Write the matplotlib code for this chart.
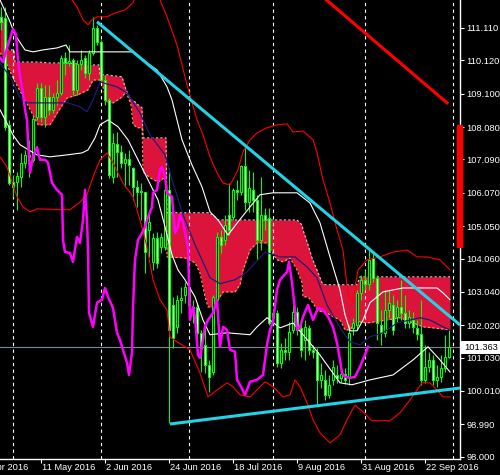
import numpy as np
import pandas as pd
import matplotlib
matplotlib.use('Agg')
import matplotlib.pyplot as plt
import matplotlib.transforms as mtransforms
from matplotlib.patches import Rectangle

plt.rcParams['font.family'] = ['Liberation Sans', 'DejaVu Sans']

# trading days; Apr 19 is only used for the first (cut off) date label
days = pd.bdate_range('2016-04-19', '2016-10-03')
first = 6  # Apr 27 = bar 0

# daily USDJPY candles, Apr 27 .. Sep 30 2016
opens = [111.45, 111.42, 108.15, 106.40, 106.40, 106.56, 106.99, 107.17, 107.08, 108.39,
         109.28, 108.39, 109.00, 108.61, 109.00, 109.13, 110.20, 110.04, 110.13, 109.22,
         110.01, 110.20, 109.74, 110.35, 111.11, 110.69, 109.52, 108.91, 106.56, 107.57,
         107.32, 106.99, 107.11, 106.83, 106.25, 106.10, 106.10, 104.94, 103.96, 104.69,
         104.42, 104.42, 106.16, 102.64, 101.97, 102.80, 102.95, 103.19, 102.58, 102.58,
         101.79, 101.42, 100.81, 100.59, 102.80, 104.72, 104.63, 105.40, 105.33, 106.16,
         106.10, 106.89, 105.79, 106.16, 105.85, 104.63, 105.40, 105.30, 102.28, 102.40,
         100.87, 101.27, 101.21, 101.88, 102.43, 101.94, 101.57, 101.94, 101.27, 101.21,
         100.35, 100.35, 99.89, 100.35, 100.50, 100.41, 100.53, 100.44, 101.94, 102.03,
         103.01, 103.41, 103.29, 104.08, 103.47, 102.03, 101.79, 102.49, 102.64, 102.28,
         102.58, 102.40, 102.09, 102.18, 101.94, 101.76, 100.35, 100.75, 100.96, 100.35,
         100.44, 100.72, 101.05]
highs = [111.76, 111.76, 108.30, 106.62, 106.71, 107.29, 107.38, 107.69, 108.42, 109.43,
         109.43, 109.37, 109.37, 109.13, 109.52, 110.29, 110.38, 110.59, 110.20, 110.13,
         110.44, 110.29, 110.44, 111.45, 111.21, 110.75, 109.68, 108.97, 107.90, 107.93,
         107.54, 107.29, 107.38, 106.86, 106.47, 106.37, 106.10, 105.40, 104.84, 104.88,
         104.84, 106.37, 106.83, 102.89, 102.95, 103.19, 103.35, 103.32, 102.80, 102.71,
         101.88, 101.97, 100.96, 102.95, 104.88, 104.94, 105.40, 106.37, 106.22, 106.47,
         106.92, 107.54, 106.77, 106.71, 106.01, 106.56, 105.61, 105.61, 102.49, 102.49,
         101.48, 101.63, 102.12, 102.64, 102.58, 102.12, 102.18, 102.03, 101.42, 101.33,
         100.87, 100.66, 100.50, 100.96, 100.81, 100.72, 100.72, 102.03, 102.25, 103.10,
         103.56, 103.71, 104.32, 104.26, 103.56, 102.49, 103.10, 103.10, 102.95, 102.80,
         103.41, 102.95, 102.49, 102.43, 102.18, 102.80, 101.42, 101.21, 101.12, 100.81,
         101.12, 101.73, 101.88]
lows = [111.05, 108.00, 106.31, 105.95, 105.55, 106.25, 106.83, 106.56, 107.02, 108.30,
        108.24, 108.09, 108.45, 108.51, 108.76, 109.07, 109.68, 109.95, 109.07, 109.07,
        109.83, 109.58, 109.52, 110.29, 110.59, 109.46, 108.76, 106.53, 106.37, 106.56,
        106.83, 106.25, 106.31, 105.85, 105.64, 105.24, 103.62, 104.11, 103.71, 103.77,
        104.23, 104.32, 99.03, 101.33, 101.79, 102.40, 102.71, 102.55, 102.09, 101.33,
        100.59, 100.56, 99.98, 100.50, 102.71, 104.23, 104.48, 104.78, 105.24, 105.85,
        106.01, 105.55, 105.49, 105.49, 104.02, 104.32, 104.94, 102.03, 102.12, 100.75,
        100.72, 100.96, 100.96, 101.79, 101.73, 101.05, 100.96, 101.12, 101.02, 99.55,
        100.11, 99.74, 99.80, 100.20, 100.26, 100.29, 100.23, 100.20, 101.73, 101.88,
        102.80, 103.10, 103.10, 103.35, 101.57, 101.42, 101.67, 102.25, 101.73, 102.12,
        102.18, 101.94, 101.94, 101.79, 101.57, 100.20, 100.26, 100.59, 100.20, 100.14,
        100.29, 100.59, 101.02]
closes = [111.30, 108.09, 106.37, 106.25, 106.59, 106.99, 107.23, 107.23, 108.33, 109.28,
          108.39, 109.00, 108.61, 109.00, 109.13, 110.20, 110.04, 110.10, 109.22, 110.01,
          110.13, 109.74, 110.35, 111.11, 110.69, 109.52, 108.91, 106.62, 107.60, 107.32,
          106.99, 107.11, 106.92, 106.25, 106.10, 106.13, 104.26, 105.18, 104.69, 103.93,
          104.72, 106.16, 101.88, 101.63, 102.80, 102.86, 103.19, 102.64, 102.55, 101.79,
          101.33, 100.81, 100.44, 102.89, 104.72, 104.48, 105.09, 104.94, 106.16, 106.10,
          106.89, 105.79, 106.22, 105.85, 104.63, 105.40, 105.24, 102.09, 102.40, 100.87,
          101.27, 101.21, 101.82, 102.43, 101.88, 101.27, 101.97, 101.27, 101.21, 100.35,
          100.50, 99.89, 100.20, 100.75, 100.41, 100.53, 100.35, 101.79, 102.09, 103.01,
          103.41, 103.29, 104.02, 103.47, 102.09, 101.79, 102.49, 102.71, 101.88, 102.58,
          102.40, 102.09, 102.28, 101.97, 101.76, 100.35, 100.75, 100.96, 100.35, 100.44,
          100.72, 101.05, 101.363]

# ichimoku cloud: span B (top) and span A (bottom), x in bars
cloud_x = [-0.25, 1.25, 1.5, 3.25, 3.5, 6, 9.25, 12.25, 14.25, 16.5, 19.25, 21.75, 23, 24.5,
           24.75, 25.5, 26.5, 28, 30.25, 31.25, 32.5, 33, 34.25, 35.25, 35.5, 37.25, 39.25,
           41.25, 41.5, 46, 48.5, 49.75, 51, 51.75, 53, 54.25, 55.5, 58.5, 59.75, 60.5, 62.25,
           64, 66.5, 67.75, 69, 70.5, 72.25, 74, 75.25, 75.5, 76.75, 77.75, 79, 80.25, 81, 83,
           84.75, 86, 87.25, 89, 89.75, 91.5, 96.5, 99.75, 105.5, 108, 112.25]
span_b = [111.36, 111.36, 110.44, 110.44, 110.07, 110.07, 110.07, 110.04, 110.04, 110.04,
          110.01, 110.01, 109.98, 109.98, 109.68, 109.68, 109.68, 109.65, 109.62, 109.22,
          108.91, 108.91, 108.76, 108.67, 107.75, 107.75, 107.75, 107.75, 105.46, 105.46,
          105.46, 105.46, 105.46, 105.46, 105.40, 105.24, 105.24, 105.24, 105.24, 105.24,
          105.24, 105.24, 105.24, 105.24, 105.24, 105.24, 105.24, 105.24, 105.09, 104.94,
          104.48, 104.08, 103.71, 103.32, 103.26, 103.26, 103.26, 103.26, 103.26, 103.26,
          103.50, 103.50, 103.50, 103.50, 103.50, 103.50, 103.50]
span_a = [110.35, 110.13, 109.98, 109.52, 109.46, 108.91, 108.15, 108.15, 108.55, 108.97,
          109.07, 109.22, 109.52, 109.52, 109.52, 109.31, 108.82, 108.82, 109.00, 109.16,
          108.76, 108.15, 108.06, 108.06, 106.71, 106.53, 106.40, 106.56, 104.11, 104.08,
          103.93, 103.62, 102.89, 102.58, 102.58, 102.80, 103.04, 103.04, 103.26, 103.71,
          104.32, 104.54, 104.54, 104.26, 104.02, 103.96, 104.08, 103.71, 103.32, 102.89,
          102.89, 102.74, 102.49, 102.43, 102.43, 102.28, 102.18, 101.88, 101.88, 102.18,
          102.12, 102.09, 102.18, 102.25, 101.97, 101.94, 101.88]

kijun_x = [-0.25, 2.25, 4.75, 6.5, 11.5, 16.75, 19.75, 21.5, 23, 24.75, 29, 31.5, 34.75, 37.25,
           41, 42.75, 45.5, 48.5, 50.25, 52.25, 54.75, 58.5, 61.5, 66, 69.75, 73.5, 76.5, 79,
           81.5, 84.75, 87.25, 89.75, 92.25, 95.5, 99, 102.25, 104.75, 107.25, 110.5, 112.25]
kijun = [110.04, 109.62, 109.00, 108.82, 108.82, 108.82, 108.70, 108.55, 108.91, 109.46,
         109.31, 109.13, 108.51, 107.84, 107.23, 106.47, 105.40, 104.48, 104.02, 103.47,
         103.29, 103.41, 103.65, 104.26, 104.11, 104.11, 103.80, 103.47, 102.64, 101.94,
         101.51, 101.42, 101.67, 101.79, 102.09, 102.18, 102.25, 102.18, 101.97, 101.88]

white_up_x = [-0.25, 2.25, 3.5, 6, 8, 10.5, 14, 16.25, 17.25, 24.75, 33, 36.5, 39, 41.5, 42.75,
              45.25, 47.75, 50.25, 52.25, 54.25, 56.75, 59.25, 62.25, 64.75, 68, 74, 77.25,
              79.75, 82.25, 84.75, 86, 87.25, 89, 90.5, 92.25, 95.5, 100.5, 109, 110.5, 112.25]
white_up = [111.97, 111.30, 110.90, 110.44, 110.38, 110.44, 110.50, 110.59, 110.38, 110.38,
            110.38, 110.04, 109.83, 109.31, 108.91, 107.69, 106.92, 106.25, 105.49, 105.24,
            104.78, 105.18, 105.64, 106.01, 106.07, 106.07, 105.76, 105.15, 104.11, 103.10,
            102.34, 101.85, 101.85, 102.18, 102.71, 103.04, 103.16, 103.16, 103.01, 102.80]

white_lo_x = [-0.25, 3, 4.75, 9, 12.25, 16.5, 20.25, 21.75, 23.5, 24.75, 26.75, 29.25, 31.75,
              34.25, 36.75, 39.25, 41, 42.75, 44.25, 46, 48.5, 50.5, 52.25, 56.5, 62.25, 64,
              66.5, 69.75, 73, 77.25, 79.75, 81.5, 84.75, 87.75, 92.25, 98, 103, 106.75,
              109.75, 112.25]
white_lo = [108.61, 107.84, 107.54, 107.23, 107.17, 107.23, 107.29, 107.38, 107.75, 108.15,
            108.30, 108.09, 107.69, 107.08, 106.47, 105.85, 105.03, 104.17, 103.71, 103.41,
            102.89, 102.18, 101.73, 101.79, 101.73, 101.97, 102.25, 101.94, 102.09, 101.48,
            101.11, 100.81, 100.26, 100.20, 100.35, 100.50, 100.96, 101.36, 100.96, 100.59]

red_up_x = [15, 17.75, 19, 20.5, 21.75, 22.75, 24, 26.5, 28.5, 31, 33, 34.75, 37.75, 39.75, 41.5,
            44, 46.5, 49, 50.5, 52.25, 54, 55.5, 57.25, 59.25, 60.5, 62.25, 64, 66.5, 69, 71.5,
            73, 75.5, 78, 79, 80.5, 82.25, 84, 85.5, 86.75, 88, 88.5, 89.25, 91.5, 94.75, 98,
            101.5, 104, 106.5, 109.75, 112.25]
red_up = [112.6, 111.97, 111.76, 111.36, 111.21, 111.36, 111.45, 111.45, 111.57, 111.66,
          111.88, 112.43, 112.43, 111.97, 111.45, 110.59, 109.37, 108.30, 107.84, 107.17,
          106.68, 106.37, 106.31, 106.77, 107.32, 107.69, 107.90, 108.06, 108.15, 108.18,
          107.93, 107.96, 107.69, 107.29, 106.47, 105.76, 104.94, 104.32, 102.95, 102.71,
          103.19, 103.71, 104.02, 104.11, 104.26, 104.32, 104.11, 104.11, 104.02, 103.71]

red_lo_x = [-0.25, 1.5, 4, 5.5, 7.25, 9, 17.25, 19.75, 21.5, 23, 24.75, 26.5, 28, 30.5, 33, 34.75,
            36.5, 38, 39.75, 41.5, 42.25, 44, 47.25, 49.75, 51.75, 54, 56.5, 58, 59.75, 62.25,
            64, 66, 68, 70.5, 72.25, 73.5, 74.75, 76.5, 78, 79.75, 82.25, 84.75, 86.5, 88.5,
            90.5, 92.75, 97.25, 99.75, 102.25, 104, 105.25, 107.25, 109, 110.5, 112.25]
red_lo = [107.17, 106.86, 105.95, 105.64, 105.49, 105.58, 105.55, 105.79, 106.01, 106.56,
          107.08, 107.29, 106.99, 106.37, 105.95, 105.24, 104.42, 103.41, 102.80, 102.49,
          101.66, 101.51, 101.27, 100.56, 99.83, 100.04, 100.26, 100.14, 99.89, 99.83,
          100.04, 100.29, 100.14, 99.83, 99.89, 100.35, 100.14, 99.65, 99.13, 98.73,
          98.42, 98.67, 99.13, 99.58, 99.37, 99.10, 99.10, 99.34, 99.74, 100.04,
          100.26, 100.26, 100.04, 99.83, 99.83]

mag_x = [-0.25, 0.5, 1.75, 3, 3.75, 4.25, 4.75, 5.5, 6, 6.5, 6.75, 7, 7.25, 8, 9, 9.75, 11, 11.75,
         12.75, 14, 15.25, 15.5, 16, 17.25, 18, 19, 19.75, 20.5, 21, 21.5, 21.75, 22, 23, 24,
         25.25, 26, 26.75, 28, 29, 29.75, 30.5, 31.5, 32, 32.75, 33, 33.5, 34.25, 35.25, 36,
         36.75, 37.75, 38, 39, 39.75, 40.25, 41, 41.5, 42.75, 43.5, 44.25, 44.75, 45.5, 46.75,
         47, 47.25, 48, 48.5, 49.25, 49.75, 51, 51.75, 53, 54, 54.75, 55.5, 56.5, 57.25, 58.5,
         59, 59.75, 61, 62.25, 64, 65.5, 66.5, 67.25, 68, 69, 69.75, 71.5, 72, 72.75, 73.5, 74,
         74.75, 75.5, 76.75, 78, 79.25, 80.5, 81.75, 83, 84, 84.75, 85.25, 86, 87.25, 88.5,
         89.75, 91, 91.75]
mag = [110.20, 110.07, 110.59, 111.08, 110.90, 110.13, 109.62, 109.13, 108.61, 108.30,
       107.69, 107.17, 106.68, 107.17, 107.47, 107.08, 107.08, 106.99, 106.37, 106.16,
       106.01, 104.63, 104.26, 104.23, 103.96, 104.72, 104.54, 105.24, 106.16, 105.24,
       104.32, 102.40, 101.97, 102.71, 102.80, 103.16, 102.89, 102.55, 101.79, 101.57,
       101.27, 100.87, 100.50, 101.18, 102.58, 104.02, 104.63, 104.84, 105.03, 105.33,
       105.64, 106.07, 106.16, 106.77, 106.86, 106.56, 106.07, 105.95, 104.84, 105.03,
       105.40, 105.15, 104.42, 103.26, 102.18, 102.58, 102.28, 101.11, 101.02, 101.97,
       102.18, 102.40, 102.80, 101.36, 101.97, 101.88, 101.27, 101.21, 100.35, 100.20,
       99.89, 100.29, 100.35, 100.50, 101.42, 101.88, 102.12, 103.10, 103.41, 103.65,
       103.96, 103.32, 102.49, 101.88, 101.97, 102.28, 102.64, 102.18, 102.55, 102.49,
       102.28, 101.97, 101.48, 100.96, 100.56, 100.44, 100.41, 100.44, 100.75, 101.12,
       101.36]

trend_hi_x, trend_hi = [24, 114.75], [111.30, 102.03]
trend_lo_x, trend_lo = [42.25, 114.75], [99.00, 100.10]
red_trend_x, red_trend = [80.75, 111.5], [112.03, 108.82]
range_top, range_bot = 108.15, 104.42

yticks = [111.11, 110.12, 109.10, 108.08, 107.09, 106.07, 105.05, 104.06, 103.04, 102.02,
          101.03, 100.01, 98.99, 98.00]

LIME = '#00ff00'
fig = plt.figure(figsize=(5, 4.75), dpi=100, facecolor='black')
ax = fig.add_axes([0, 16 / 475, 460 / 500, 459 / 475])
ax.set_facecolor('black')

# cloud
ax.fill_between(cloud_x, span_a, span_b, color='#dc143c', lw=0, zorder=1)
ax.plot(cloud_x, span_b, color='#d8c8d8', lw=0.8, ls=(0, (2, 2)), zorder=1.5)
ax.plot(cloud_x, span_a, color='#f4a460', lw=0.8, ls=(0, (2, 2)), zorder=1.5)

# month separators
pos = np.arange(len(days)) - first
for i in range(1, len(days)):
    if days[i].month != days[i - 1].month and pos[i] >= 0:
        ax.axvline(pos[i], color='white', lw=0.8, ls=(0, (3, 3)), zorder=2)

ax.axhline(closes[-1], color='#778899', lw=0.8, zorder=2)

# candles
o, h, l, c = map(np.array, (opens, highs, lows, closes))
x = np.arange(len(o))
ax.vlines(x, l, h, color=LIME, lw=0.8, zorder=3)
bodies = np.maximum(np.abs(c - o), 0.02)
ax.bar(x, bodies, bottom=np.minimum(o, c), width=0.55,
       color=np.where(c >= o, 'black', 'white'), edgecolor=LIME, linewidth=0.8, zorder=3.5)

# indicator lines
ax.plot(kijun_x, kijun, color='#1c1c7a', lw=0.9, zorder=4)
ax.plot(white_up_x, white_up, color='white', lw=0.8, zorder=4)
ax.plot(white_lo_x, white_lo, color='white', lw=0.8, zorder=4)
ax.plot(red_up_x, red_up, color='red', lw=0.8, zorder=4)
ax.plot(red_lo_x, red_lo, color='red', lw=0.8, zorder=4)
ax.plot(mag_x, mag, color='#ff00ff', lw=1.8, zorder=5)

# drawn objects
ax.plot(trend_hi_x, trend_hi, color='#22d3e6', lw=2.2, zorder=6, solid_capstyle='butt')
ax.plot(trend_lo_x, trend_lo, color='#22d3e6', lw=2.2, zorder=6, solid_capstyle='butt')
ax.plot(red_trend_x, red_trend, color='red', lw=2.2, zorder=6)
ax.add_patch(Rectangle((114.0, range_bot), 1.25, range_top - range_bot, color='red',
                       clip_on=False, zorder=7))

for s in ('top', 'left'):
    ax.spines[s].set_visible(False)
for s in ('right', 'bottom'):
    ax.spines[s].set_color('white')
    ax.spines[s].set_linewidth(1)

ax.yaxis.tick_right()
ax.set_yticks(yticks)
ax.set_yticklabels([f'{v:.3f}' for v in yticks])
ax.tick_params(axis='y', colors='white', labelsize=6.7, length=3, width=0.8, pad=1.5)

lab_idx = np.arange(0, len(days), 16)
ax.set_xticks(pos[lab_idx])
ax.set_xticklabels([])
ax.tick_params(axis='x', colors='white', length=3, width=0.8)

ax.set_xlim(-0.25, 114.75)
ax.set_ylim(97.93, 111.966)

trans = mtransforms.blended_transform_factory(ax.transData, ax.transAxes)
for i in lab_idx:
    ax.text(pos[i] + 0.3, -0.008, days[i].strftime('%-d %b %Y'), transform=trans,
            ha='left', va='top', color='white', fontsize=6.7, clip_on=False)

# bid price label
fig.add_artist(Rectangle((461 / 500, (475 - 354) / 475), 39 / 500, 13 / 475,
                         transform=fig.transFigure, facecolor='white', edgecolor='none', zorder=10))
fig.text(464 / 500, (475 - 347.5) / 475, f'{closes[-1]:.3f}', color='black', fontsize=6.7,
         va='center', ha='left', zorder=11)

fig.savefig('out.png', dpi=100, facecolor='black')
